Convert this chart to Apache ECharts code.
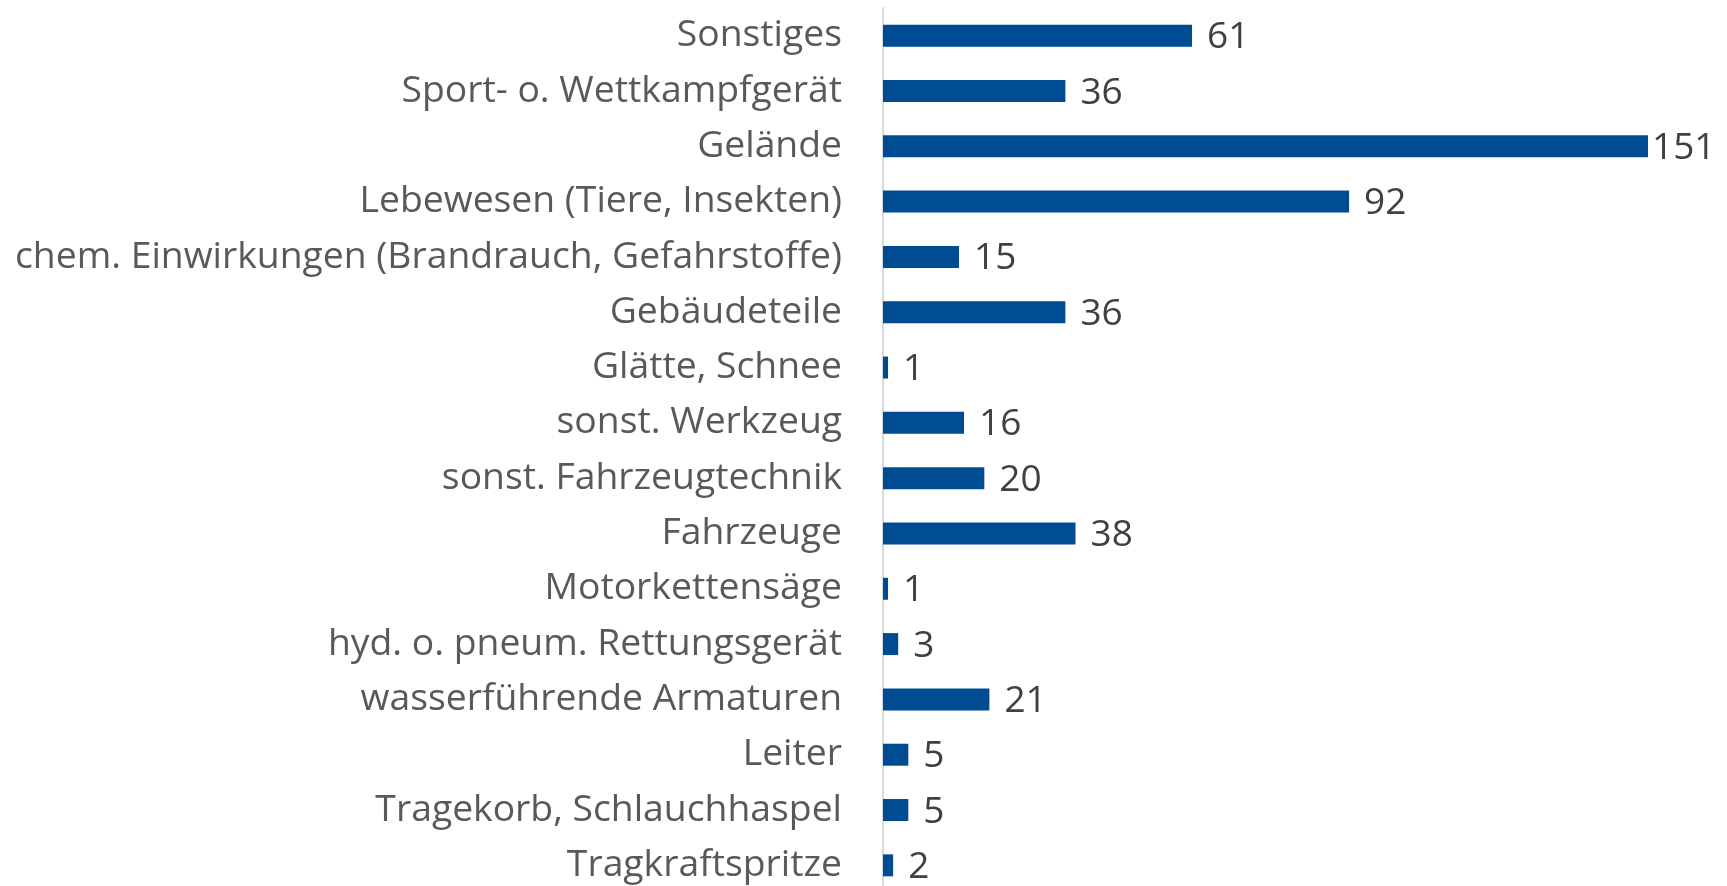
<!DOCTYPE html>
<html><head><meta charset="utf-8">
<script src="https://cdn.jsdelivr.net/npm/echarts@6/dist/echarts.min.js"></script>
<style>html,body{margin:0;padding:0;background:#fff}#c{width:1727px;height:886px}</style>
</head><body><div id="c"></div>
<script>
const categories = ["Sonstiges","Sport- o. Wettkampfgerät","Gelände","Lebewesen (Tiere, Insekten)","chem. Einwirkungen (Brandrauch, Gefahrstoffe)","Gebäudeteile","Glätte, Schnee","sonst. Werkzeug","sonst. Fahrzeugtechnik","Fahrzeuge","Motorkettensäge","hyd. o. pneum. Rettungsgerät","wasserführende Armaturen","Leiter","Tragekorb, Schlauchhaspel","Tragkraftspritze"];
const values = [61,36,151,92,15,36,1,16,20,38,1,3,21,5,5,2];

const chart = echarts.init(document.getElementById('c'), null, {renderer:'canvas'});
const maxVal = Math.max(...values);
chart.setOption({
  animation:false,
  grid:{left:883, top:8, width:810.6, height:885, containLabel:false, outerBoundsMode:'none'},
  xAxis:{type:'value', min:0, max:160, show:false},
  yAxis:{type:'category', data:categories, inverse:true,
    axisLine:{show:true, lineStyle:{color:'#d9d9d9', width:2}},
    axisTick:{show:false},
    axisLabel:{margin:41, color:'#595959', fontFamily:'Open Sans', fontSize:37.3}
  },
  series:[{type:'bar', barWidth:22,
    data: values.map(v => v===maxVal ? {value:v, label:{distance:4}} : v),
    itemStyle:{color:'#004C93'},
    label:{show:true, position:'right', distance:15, color:'#404040', fontFamily:'Open Sans', fontSize:37, offset:[0,2]}
  }]
});
</script></body></html>
